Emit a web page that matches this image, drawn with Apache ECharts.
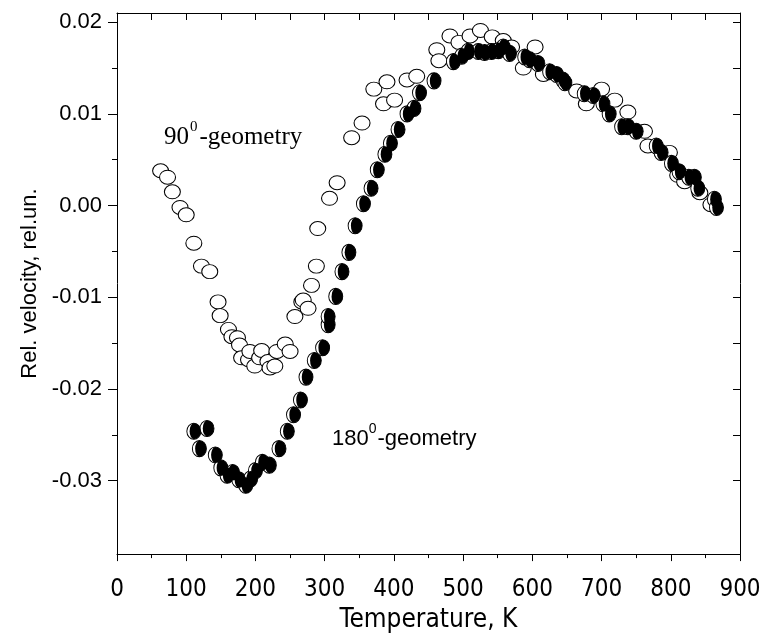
<!DOCTYPE html>
<html>
<head>
<meta charset="utf-8">
<script src="https://cdn.jsdelivr.net/npm/echarts@6/dist/echarts.min.js"></script>
<style>
html,body{margin:0;padding:0;background:#fff;}
#chart{width:768px;height:638px;}
</style>
</head>
<body>
<div id="chart"></div>
<script>
// ---- Data ----
// 90°-geometry (open circles): temperature K, relative velocity
var t90 = [63,73,80,91,100,111,122,134,146,149,161,166,174,177,180,190,192,199,206,209,218,221,228,231,243,250,257,267,269,276,281,288,290,307,318,339,354,371,385,390,401,419,433,462,465,481,494,510,525,542,558,570,587,604,616,664,678,700,719,738,762,767,798,810,820,842,858];
var v90 = [0.0038,0.0031,0.0015,-0.0002,-0.0010,-0.0041,-0.0066,-0.0072,-0.0105,-0.0120,-0.0135,-0.0143,-0.0144,-0.0152,-0.0166,-0.0168,-0.0159,-0.0175,-0.0166,-0.0158,-0.0170,-0.0177,-0.0175,-0.0159,-0.0151,-0.0159,-0.0121,-0.0105,-0.0103,-0.0112,-0.0087,-0.0066,-0.0025,0.0008,0.0025,0.0074,0.0090,0.0127,0.0111,0.0135,0.0115,0.0137,0.0141,0.0170,0.0158,0.0185,0.0178,0.0185,0.0191,0.0184,0.0180,0.0173,0.0150,0.0173,0.0143,0.0125,0.0111,0.0127,0.0115,0.0102,0.0081,0.0065,0.0058,0.0033,0.0026,0.0014,0.0001];
// 180°-geometry (half-filled circles)
var t180 = [111,119,130,142,150,159,167,176,186,193,200,210,220,234,246,255,265,273,285,297,305,305,316,325,335,344,356,367,376,387,395,406,419,429,437,458,486,498,507,522,531,541,551,558,567,589,596,608,625,635,644,647,675,688,702,711,729,738,750,779,786,801,812,826,834,839,863,866];
var v180 = [-0.0246,-0.0265,-0.0243,-0.0272,-0.0286,-0.0294,-0.0291,-0.0299,-0.0305,-0.0298,-0.0289,-0.0280,-0.0283,-0.0265,-0.0246,-0.0228,-0.0212,-0.0187,-0.0169,-0.0155,-0.0130,-0.0121,-0.0099,-0.0072,-0.0051,-0.0022,0.0002,0.0019,0.0039,0.0056,0.0068,0.0083,0.0100,0.0106,0.0123,0.0136,0.0157,0.0163,0.0168,0.0168,0.0167,0.0168,0.0169,0.0173,0.0166,0.0162,0.0159,0.0155,0.0146,0.0143,0.0137,0.0134,0.0122,0.0120,0.0111,0.0100,0.0086,0.0086,0.0081,0.0065,0.0058,0.0046,0.0037,0.0031,0.0031,0.0019,0.0007,-0.0002];
// Tick labels
var yMajorTicks = [-0.03,-0.02,-0.01,0.00,0.01,0.02];
var yMinorTicks = [-0.025,-0.015,-0.005,0.005,0.015];
var yRightTicks = [-0.03,-0.025,-0.02,-0.015,-0.01,-0.005,0,0.005,0.01,0.015,0.02];
var xMin = 0, xMax = 900, xStep = 100;
var yMin = -0.0380, yMax = 0.0210;
var xTitle = 'Temperature, K';
var yTitle = 'Rel. velocity, rel.un.';

function zip(a, b){ return a.map(function(x,i){ return [x, b[i]]; }); }

var sansFont = "'Liberation Sans', Arial, sans-serif";
var narrowFont = "'Liberation Sans Narrow', 'Arial Narrow', 'DejaVu Sans Condensed', 'Liberation Sans', sans-serif";
var serifFont = "'Liberation Serif', 'Times New Roman', serif";

var chart = echarts.init(document.getElementById('chart'), null, {renderer:'canvas'});
var lineStyle = {color:'#000', width:1};
var option = {
  animation: false,
  backgroundColor: '#fff',
  grid: {left:117, right:28, top:13, bottom:68, containLabel:false},
  xAxis: [
    {
      type:'value', min:xMin, max:xMax, interval:xStep, position:'bottom',
      axisLine:{show:true, onZero:false, lineStyle:lineStyle},
      axisTick:{show:true, inside:false, length:7, lineStyle:lineStyle},
      minorTick:{show:true, splitNumber:2, length:4, lineStyle:lineStyle},
      splitLine:{show:false},
      axisLabel:{color:'#000', fontSize:24, fontFamily:narrowFont, margin:24},
      name:xTitle, nameLocation:'middle', nameGap:52,
      nameTextStyle:{color:'#000', fontSize:26, fontFamily:narrowFont}
    },
    {
      type:'value', min:xMin, max:xMax, interval:xStep/2, position:'top',
      axisLine:{show:true, onZero:false, lineStyle:lineStyle},
      axisTick:{show:true, inside:true, length:7, lineStyle:lineStyle},
      splitLine:{show:false}, axisLabel:{show:false}
    }
  ],
  yAxis: [
    {
      type:'value', min:yMin, max:yMax, position:'left',
      axisLine:{show:true, onZero:false, lineStyle:lineStyle},
      axisTick:{show:true, inside:false, length:9, customValues:yMajorTicks, lineStyle:lineStyle},
      splitLine:{show:false},
      axisLabel:{color:'#000', fontSize:22, fontFamily:sansFont, margin:15, customValues:yMajorTicks,
        formatter:function(v){ return Math.abs(v)<1e-9 ? '0.00' : v.toFixed(2); }},
      name:yTitle, nameLocation:'middle', nameGap:72, nameRotate:90,
      nameTextStyle:{color:'#000', fontSize:22, fontFamily:sansFont}
    },
    {
      type:'value', min:yMin, max:yMax, position:'left', offset:0,
      axisLine:{show:false},
      axisTick:{show:true, inside:false, length:5, customValues:yMinorTicks, lineStyle:lineStyle},
      splitLine:{show:false}, axisLabel:{show:false}
    },
    {
      type:'value', min:yMin, max:yMax, position:'right',
      axisLine:{show:true, onZero:false, lineStyle:lineStyle},
      axisTick:{show:true, inside:true, length:7, customValues:yRightTicks, lineStyle:lineStyle},
      splitLine:{show:false}, axisLabel:{show:false}
    }
  ],
  series: [
    {
      name:'90-geometry', type:'scatter', xAxisIndex:0, yAxisIndex:0,
      data: zip(t90, v90), symbol:'circle', symbolSize:[16,14],
      itemStyle:{color:'#fff', borderColor:'#000', borderWidth:1, opacity:1}
    },
    {
      name:'180-geometry-base', type:'scatter', xAxisIndex:0, yAxisIndex:0,
      data: zip(t180, v180), symbol:'circle', symbolSize:[14,16],
      itemStyle:{color:'#fff', borderColor:'#000', borderWidth:1, opacity:1}
    },
    {
      name:'180-geometry-fill', type:'scatter', xAxisIndex:0, yAxisIndex:0,
      data: zip(t180, v180),
      symbol:'path://M0,-1 A1,1 0 0,1 0,1 A0.6,1 0 0,1 0,-1 Z',
      symbolKeepAspect:false,
      symbolSize:[11.2,16], symbolOffset:[1.4,0],
      itemStyle:{color:'#000', opacity:1}
    }
  ],
  graphic: [
    {
      type:'text', left:164, top:120, z:100,
      style:{
        text:'{n|90}{s|0}{n|-geometry}',
        rich:{
          n:{fontSize:25, fontFamily:serifFont, fill:'#000', lineHeight:30, verticalAlign:'bottom'},
          s:{fontSize:15, fontFamily:serifFont, fill:'#000', lineHeight:30, verticalAlign:'top', padding:[0,2,0,1]}
        }
      }
    },
    {
      type:'text', left:332, top:422, z:100,
      style:{
        text:'{n|180}{s|0}{n|-geometry}',
        rich:{
          n:{fontSize:22, fontFamily:sansFont, fill:'#000', lineHeight:28, verticalAlign:'bottom'},
          s:{fontSize:14, fontFamily:sansFont, fill:'#000', lineHeight:28, verticalAlign:'top', padding:[0,1,0,0]}
        }
      }
    }
  ]
};
chart.setOption(option);
</script>
</body>
</html>
